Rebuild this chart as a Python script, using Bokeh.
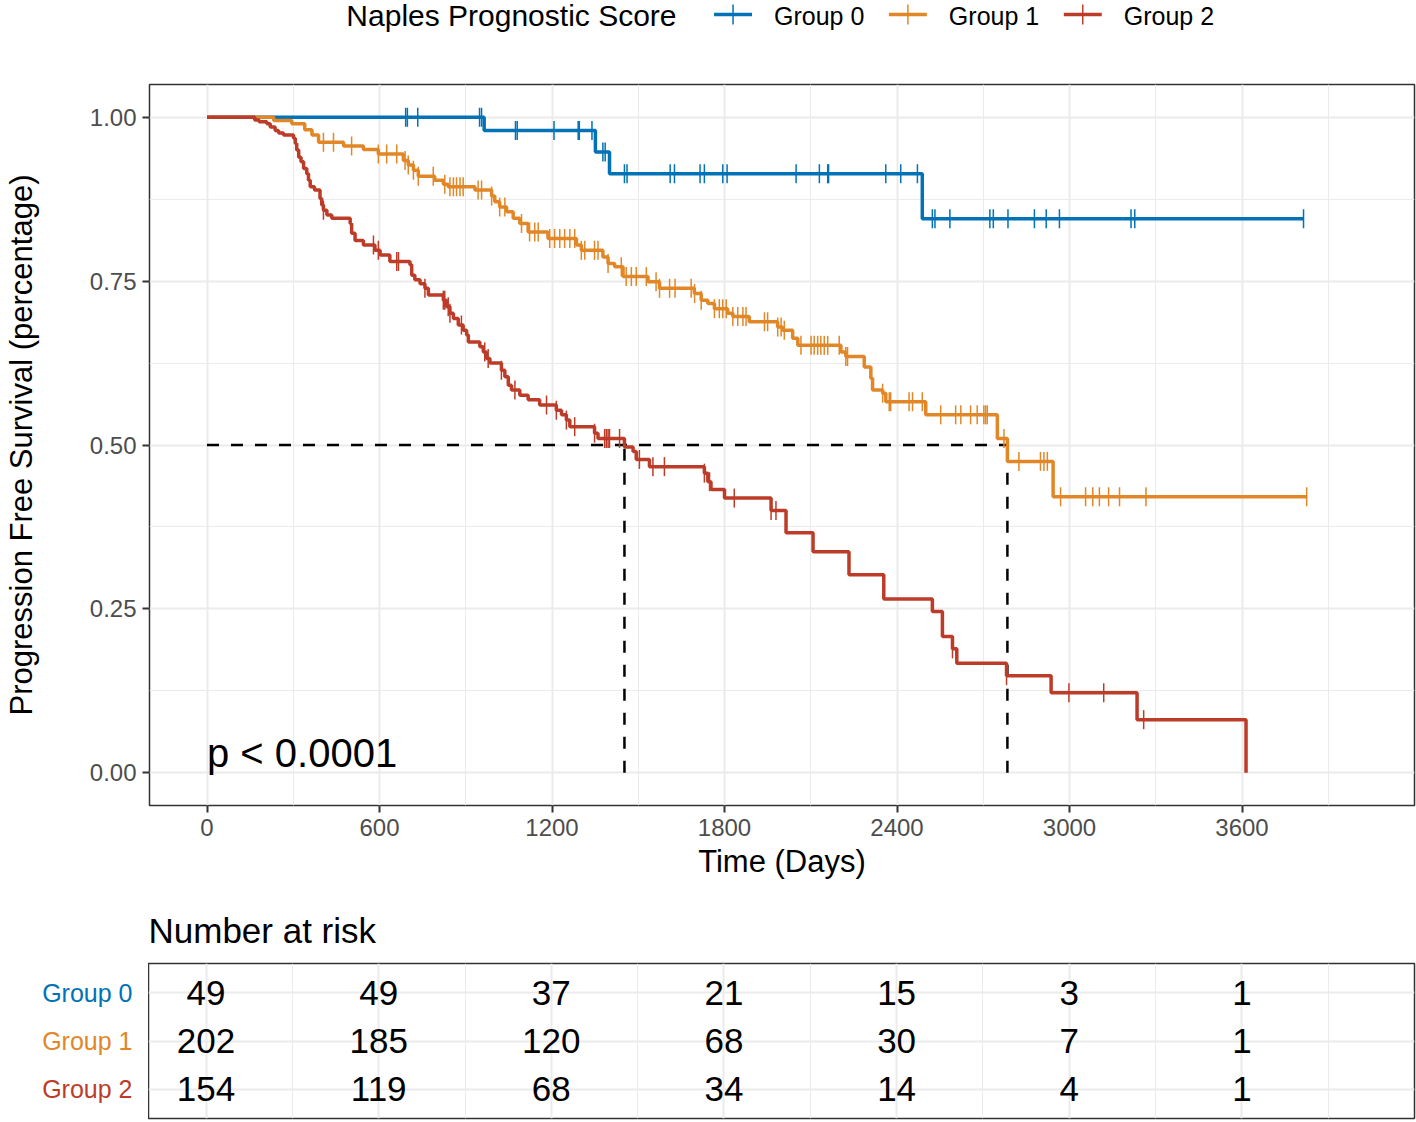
import numpy as np
from bokeh.plotting import figure
from bokeh.models import Range1d, FixedTicker, PrintfTickFormatter
from bokeh.layouts import column, row
from bokeh.embed import file_html
from bokeh.resources import INLINE
from bokeh.core.properties import value

FONT = "Liberation Sans"

# ---------------- data ----------------
groups = ["Group 0", "Group 1", "Group 2"]
colors = ["#0072B5", "#E18727", "#BC3C29"]

g0_event_t = [964, 1351, 1400, 2488]
g0_event_s = [0.980, 0.947, 0.914, 0.845]
g0_censor_t = [691, 697, 733, 948, 955, 1073, 1079, 1207, 1291, 1295, 1339, 1377, 1385,
               1452, 1461, 1611, 1626, 1715, 1730, 1794, 1809, 2049, 2130, 2159, 2162,
               2361, 2413, 2471, 2523, 2532, 2584, 2723, 2735, 2786, 2878, 2919, 2965,
               3214, 3227, 3814]

g1_event_t = [232, 295, 340, 365, 388, 475, 544, 596, 683, 700, 718, 735, 792, 822, 839,
              932, 990, 1001, 1018, 1042, 1065, 1088, 1117, 1186, 1285, 1302, 1377, 1395,
              1418, 1447, 1534, 1574, 1695, 1719, 1742, 1765, 1811, 1829, 1886, 1985, 2002,
              2037, 2055, 2205, 2222, 2286, 2309, 2315, 2350, 2361, 2500, 2749, 2784, 2943]
g1_event_s = [0.995, 0.990, 0.981, 0.973, 0.962, 0.956, 0.951, 0.944, 0.934, 0.927, 0.919,
              0.910, 0.904, 0.898, 0.894, 0.889, 0.880, 0.871, 0.863, 0.856, 0.846, 0.838,
              0.825, 0.815, 0.805, 0.797, 0.787, 0.777, 0.772, 0.757, 0.749, 0.739, 0.731,
              0.721, 0.716, 0.708, 0.701, 0.696, 0.688, 0.680, 0.675, 0.663, 0.652, 0.642,
              0.635, 0.619, 0.602, 0.584, 0.579, 0.566, 0.546, 0.510, 0.475, 0.421]
g1_censor_t = [405, 440, 503, 596, 625, 660, 689, 700, 718, 735, 787, 827, 845, 857, 868,
               880, 891, 943, 955, 990, 1018, 1036, 1094, 1122, 1140, 1152, 1192, 1209,
               1227, 1244, 1262, 1279, 1302, 1314, 1348, 1360, 1395, 1441, 1458, 1476, 1493,
               1528, 1562, 1574, 1609, 1628, 1684, 1696, 1719, 1765, 1782, 1794, 1806, 1829,
               1846, 1864, 1875, 1939, 1950, 1985, 1997, 2008, 2066, 2101, 2112, 2124, 2135,
               2147, 2159, 2199, 2222, 2228, 2350, 2373, 2378, 2442, 2454, 2488, 2552, 2604,
               2622, 2656, 2679, 2702, 2708, 2714, 2772, 2824, 2899, 2911, 2923, 2969, 3056,
               3081, 3104, 3136, 3174, 3266, 3825]

g2_event_t = [166, 181, 208, 220, 237, 249, 266, 301, 307, 312, 319, 327, 336, 347, 353,
              359, 374, 393, 399, 405, 417, 434, 498, 503, 515, 544, 584, 602, 636, 706,
              712, 723, 741, 758, 770, 822, 833, 845, 857, 874, 891, 903, 909, 949, 961,
              972, 984, 1024, 1036, 1048, 1059, 1088, 1117, 1157, 1215, 1233, 1250, 1262,
              1348, 1360, 1452, 1482, 1493, 1539, 1730, 1742, 1753, 1800, 1962, 2014, 2108,
              2233, 2354, 2523, 2558, 2593, 2608, 2781, 2936, 3235, 3614]
g2_event_s = [0.996, 0.993, 0.990, 0.985, 0.980, 0.976, 0.973, 0.968, 0.960, 0.950, 0.939,
              0.932, 0.922, 0.914, 0.904, 0.894, 0.889, 0.876, 0.866, 0.858, 0.851, 0.846,
              0.838, 0.823, 0.812, 0.805, 0.797, 0.790, 0.780, 0.775, 0.759, 0.752, 0.746,
              0.739, 0.729, 0.721, 0.711, 0.701, 0.693, 0.683, 0.675, 0.668, 0.657, 0.650,
              0.642, 0.632, 0.625, 0.614, 0.604, 0.591, 0.584, 0.576, 0.569, 0.561, 0.553,
              0.546, 0.538, 0.528, 0.518, 0.510, 0.497, 0.490, 0.478, 0.467, 0.457, 0.444,
              0.432, 0.419, 0.400, 0.366, 0.337, 0.302, 0.265, 0.246, 0.208, 0.189, 0.167,
              0.148, 0.122, 0.081, 0.0]
g2_censor_t = [405, 579, 596, 660, 666, 758, 822, 827, 839, 845, 885, 966, 978, 1024, 1071,
               1181, 1215, 1250, 1279, 1348, 1383, 1389, 1395, 1400, 1435, 1504, 1551, 1591,
               1730, 1748, 1834, 1962, 1979, 2593, 2781, 2998, 3119, 3258]

x_ticks = [0, 600, 1200, 1800, 2400, 3000, 3600]
x_minor = [300, 900, 1500, 2100, 2700, 3300, 3900]
y_ticks = [0.0, 0.25, 0.5, 0.75, 1.0]
y_minor = [0.125, 0.375, 0.625, 0.875]

risk_times = [0, 600, 1200, 1800, 2400, 3000, 3600]
risk_g0 = [49, 49, 37, 21, 15, 3, 1]
risk_g1 = [202, 185, 120, 68, 30, 7, 1]
risk_g2 = [154, 119, 68, 34, 14, 4, 1]

p_text = "p < 0.0001"
legend_title = "Naples Prognostic Score"

events = [(g0_event_t, g0_event_s, g0_censor_t),
          (g1_event_t, g1_event_s, g1_censor_t),
          (g2_event_t, g2_event_s, g2_censor_t)]
risks = [risk_g0, risk_g1, risk_g2]


def step_xy(ev_t, ev_s, end_t):
    xs, ys, cur = [0.0], [1.0], 1.0
    for t, s in zip(ev_t, ev_s):
        xs += [t, t]
        ys += [cur, s]
        cur = s
    if end_t > xs[-1]:
        xs.append(end_t)
        ys.append(cur)
    return xs, ys


def surv_at(ev_t, ev_s, t):
    cur = 1.0
    for te, s in zip(ev_t, ev_s):
        if te <= t:
            cur = s
        else:
            break
    return cur


def median(ev_t, ev_s):
    for t, s in zip(ev_t, ev_s):
        if s <= 0.5:
            return t
    return None


GRID = "#EBEBEB"
DARK = "#333333"
W = 1416
LEFT = 148
RIGHT = 2

# ---------------- legend strip ----------------
leg = figure(width=W, height=54, x_range=Range1d(LEFT, W - RIGHT), y_range=Range1d(54, 0),
             output_backend="svg", toolbar_location=None, title=None,
             min_border_left=LEFT, min_border_right=RIGHT, min_border_top=0, min_border_bottom=0)
leg.axis.visible = False
leg.grid.visible = False
leg.outline_line_color = None
leg.text(x=[345], y=[15], text=[legend_title], text_font=value(FONT),
         text_font_size="30px", text_baseline="middle", text_align="left", text_color="black")
key_x = [713, 888, 1063]
for kx, g, c in zip(key_x, groups, colors):
    leg.line([kx, kx + 38], [14, 14], line_color=c, line_width=3.5)
    leg.line([kx + 19, kx + 19], [4, 24], line_color=c, line_width=1.5)
    leg.text(x=[kx + 60], y=[15], text=[g], text_font=value(FONT), text_font_size="25px",
             text_baseline="middle", text_align="left", text_color="black")

# ---------------- main KM plot ----------------
p = figure(width=W, height=831, x_range=Range1d(-200, 4200), y_range=Range1d(-0.05, 1.05),
           output_backend="svg", toolbar_location=None, title=None,
           min_border_left=LEFT, min_border_right=RIGHT, min_border_top=30, min_border_bottom=80)
p.outline_line_color = DARK
p.outline_line_width = 1.5
p.background_fill_color = "white"
p.border_fill_color = "white"

xt = FixedTicker(ticks=x_ticks, minor_ticks=x_minor)
yt = FixedTicker(ticks=y_ticks, minor_ticks=y_minor)
p.xaxis.ticker = xt
p.yaxis.ticker = yt
p.xgrid.ticker = xt
p.ygrid.ticker = yt
p.yaxis.formatter = PrintfTickFormatter(format="%.2f")
for g in (p.xgrid, p.ygrid):
    g.grid_line_color = GRID
    g.grid_line_width = 2
    g.minor_grid_line_color = GRID
    g.minor_grid_line_width = 1
for ax in (p.xaxis, p.yaxis):
    ax.axis_line_color = None
    ax.major_tick_line_color = DARK
    ax.major_tick_line_width = 2
    ax.major_tick_out = 7
    ax.major_tick_in = 0
    ax.minor_tick_line_color = None
    ax.major_label_text_font = FONT
    ax.major_label_text_font_size = "24px"
    ax.major_label_text_color = "#4D4D4D"
    ax.major_label_standoff = 6
    ax.axis_label_text_font = FONT
    ax.axis_label_text_font_size = "31px"
    ax.axis_label_text_font_style = "normal"
    ax.axis_label_text_color = "black"
p.xaxis.axis_label = "Time (Days)"
p.yaxis.axis_label = "Progression Free Survival (percentage)"
p.xaxis.axis_label_standoff = 5
p.yaxis.axis_label_standoff = 48

# median reference lines
meds = [median(et, es) for et, es, _ in events]
meds = [m for m in meds if m is not None]
mmax = max(meds)
p.line([0, mmax], [0.5, 0.5], line_color="black", line_width=2.5, line_dash="12 12")
for m in meds:
    p.line([m, m], [0, 0.5], line_color="black", line_width=2.5, line_dash="12 12")

for (et, es, ct), c in zip(events, colors):
    end_t = max(max(ct), max(et))
    xs, ys = step_xy(et, es, end_t)
    p.line(xs, ys, line_color=c, line_width=3.5)
    cy = [surv_at(et, es, t) for t in ct]
    p.scatter(ct, cy, marker="dash", size=19, angle=np.pi / 2, line_color=c, line_width=1.5)

p.text(x=[0], y=[0.03], text=[p_text], text_font=value(FONT), text_font_size="40px",
       text_baseline="middle", text_align="left", text_color="black")

# ---------------- risk table ----------------
TH = 237
t = figure(width=W - LEFT, height=TH, x_range=p.x_range, y_range=Range1d(0.4, 3.6),
           output_backend="svg", toolbar_location=None,
           min_border_left=0, min_border_right=RIGHT, min_border_top=78, min_border_bottom=4)
t.title.text = "Number at risk"
t.title.text_font = FONT
t.title.text_font_size = "35px"
t.title.text_font_style = "normal"
t.title.text_color = "black"
t.title.align = "left"
t.title.standoff = 27
t.title.offset = 0
t.outline_line_color = DARK
t.outline_line_width = 1.5
t.xaxis.visible = False
t.yaxis.visible = False
t.xgrid.ticker = xt
t.ygrid.ticker = FixedTicker(ticks=[1, 2, 3], minor_ticks=[])
t.xgrid.grid_line_color = GRID
t.xgrid.grid_line_width = 2
t.xgrid.minor_grid_line_color = GRID
t.xgrid.minor_grid_line_width = 1
t.ygrid.grid_line_color = GRID
t.ygrid.grid_line_width = 2

# label column for the risk table (group names)
lab = figure(width=LEFT, height=TH, x_range=Range1d(0, LEFT), y_range=t.y_range,
             output_backend="svg", toolbar_location=None, title=None,
             min_border_left=0, min_border_right=0, min_border_top=78, min_border_bottom=4)
lab.axis.visible = False
lab.grid.visible = False
lab.outline_line_color = None

for i, (g, c, r) in enumerate(zip(groups, colors, risks)):
    ypos = 3 - i
    t.text(x=risk_times, y=[ypos] * len(risk_times), text=[str(v) for v in r],
           text_font=value(FONT), text_font_size="35px", text_align="center",
           text_baseline="middle", text_color="black")
    lab.text(x=[LEFT - 16], y=[ypos], text=[g], text_font=value(FONT), text_font_size="25px",
             text_align="right", text_baseline="middle", text_color=c)

layout = column(leg, p, row(lab, t, spacing=0), spacing=0)
open("out.html", "w").write(file_html(layout, INLINE))
